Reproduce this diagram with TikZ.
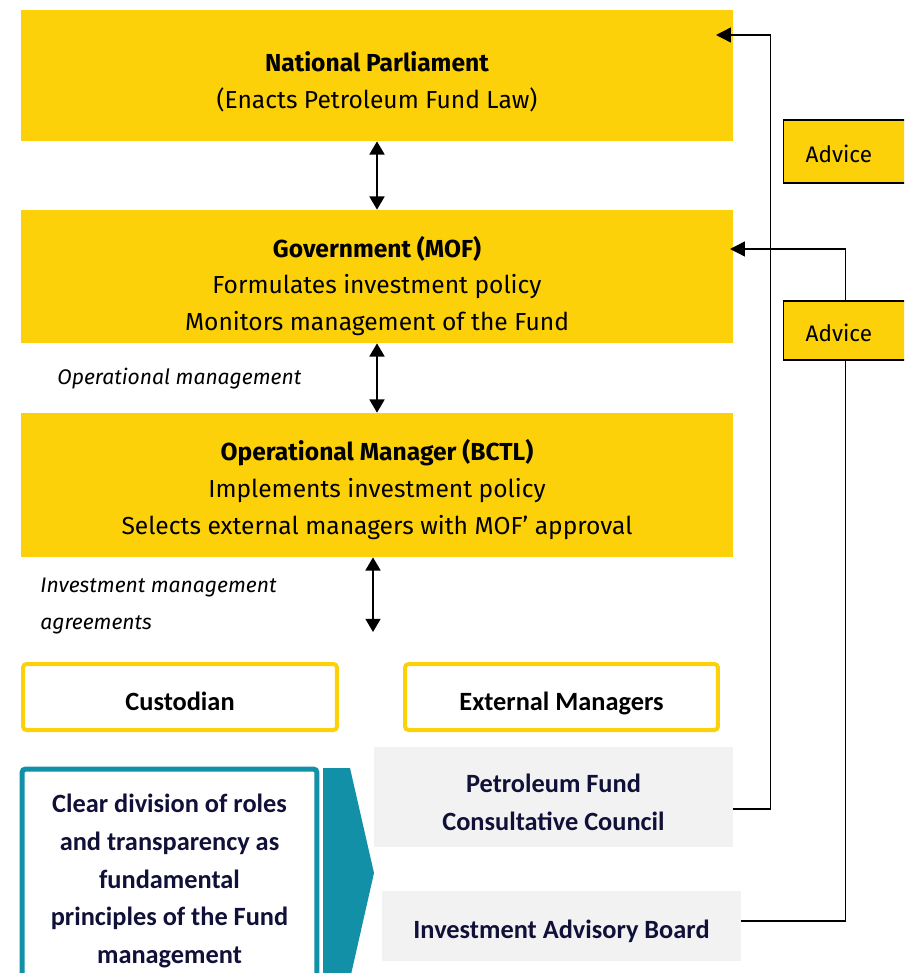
\documentclass[tikz,border=0pt]{standalone}
\usepackage{fontspec}
\setmainfont{Fira Sans}
\newfontfamily\calibri{Carlito}
\usetikzlibrary{arrows.meta, positioning, backgrounds}
\definecolor{eyyellow}{RGB}{253, 209, 10}
\definecolor{pfgray}{RGB}{242, 242, 242}
\definecolor{pfnavy}{RGB}{16, 16, 56}
\definecolor{pfteal}{RGB}{17, 144, 167}
\tikzset{
    govbox/.style={rectangle, fill=eyyellow, minimum width=14.24cm},
    govtext/.style={
        inner sep=0pt, text=black, align=center,
        font=\fontsize{14}{21}\selectfont
    },
    partybox/.style={
        rectangle, rounded corners=2pt, draw=eyyellow, line width=0.08cm, fill=white,
        minimum height=1.32cm, text height=18pt, text depth=3pt,
        font=\calibri\bfseries\fontsize{15}{21}\selectfont
    },
    councilbox/.style={rectangle, fill=pfgray, minimum width=7.18cm},
    counciltext/.style={
        inner sep=0pt, text=pfnavy, align=center,
        font=\calibri\bfseries\fontsize{15}{21.5}\selectfont
    },
    advicebox/.style={
        rectangle, draw=black, line width=0.8pt, fill=eyyellow, anchor=west,
        text width=2cm, inner xsep=0.44cm, align=left, text height=14pt, text depth=1pt,
        font=\fontsize{12.8}{14}\selectfont
    },
    dblarrow/.style={{Triangle[length=7.5pt, width=8.5pt]}-{Triangle[length=7.5pt, width=8.5pt]}, line width=1.1pt},
    advarrow/.style={-{Triangle[length=8.5pt, width=8.5pt]}, line width=0.8pt},
    note/.style={inner sep=0pt, font=\itshape\fontsize{12}{21}\selectfont, align=left},
}
\begin{document}
\begin{tikzpicture}[x=0.02cm, y=-0.02cm]
    \useasboundingbox (0,0) rectangle (904,973);
    \clip (0,0) rectangle (904,973);

    % the three yellow levels
    \node[govbox, minimum height=2.62cm] (parl) at (377,75.5) {};
    \node[govtext] (parltext) at (377,81.5) {
        \textbf{National Parliament}\\
        (Enacts Petroleum Fund Law)
    };
    \node[govbox, minimum height=2.66cm] (mof) at (377,276.5) {};
    \node[govtext] (moftext) at (377,286) {
        \textbf{Government (MOF)}\\
        Formulates investment policy\\
        Monitors management of the Fund
    };
    \node[govbox, minimum height=2.88cm] (bctl) at (377,485) {};
    \node[govtext] (bctltext) at (377,489.5) {
        \textbf{Operational Manager (BCTL)}\\
        Implements investment policy\\
        Selects external managers with MOF' approval
    };

    \draw[dblarrow] (parl.south) -- (mof.north);
    \draw[dblarrow] (mof.south) -- (bctl.north);
    \coordinate (imaend) at (373,632);
    \draw[dblarrow] (bctl.south -| imaend) -- (imaend);

    \node[note, anchor=west] (opmgmt) at (57,379) {Operational management};
    \node[note, anchor=west] (imalabel) at (40,606) {Investment management\\agreements};

    % custodian and managers
    \node[partybox, minimum width=6.28cm] (custodian) at (180,697) {Custodian};
    \node[partybox, minimum width=6.26cm] (extmgr) at (561.5,697) {External Managers};

    % advisory bodies
    \node[councilbox, minimum height=2cm] (pfcc) at (553.5,797) {};
    \node[counciltext] (pfcctext) at (553.5,802) {Petroleum Fund\\Consultative Council};
    \node[councilbox, minimum height=1.4cm] (iab) at (561.5,926) {};
    \node[counciltext] (iabtext) at (561.5,931) {Investment Advisory Board};

    % principles box with chevron
    \node[rectangle, rounded corners=2pt, draw=pfteal, line width=0.1cm, fill=white,
        minimum width=5.9cm, minimum height=4.4cm] (principles) at (169.5,879) {};
    \node[counciltext] (principlestext) at (169.5,881) {
        Clear division of roles\\
        and transparency as\\
        fundamental\\
        principles of the Fund\\
        management
    };
    \fill[pfteal] (323,768) -- (350,768) -- (374,873) -- (350,979) -- (323,979) -- cycle;

    \coordinate (parlin) at (716,35);
    \coordinate (mofin) at (730,249);
    \draw[advarrow] (pfcc.east |- 0,809) -- ++(37,0) |- (parlin);
    \draw[advarrow] (iab.east |- 0,921) -- ++(104,0) |- (mofin);

    \node[advicebox, minimum height=1.26cm] (advice1) at (783,151.5) {Advice};
    \node[advicebox, minimum height=1.18cm] (advice2) at (783,330.5) {Advice};
\end{tikzpicture}
\end{document}
